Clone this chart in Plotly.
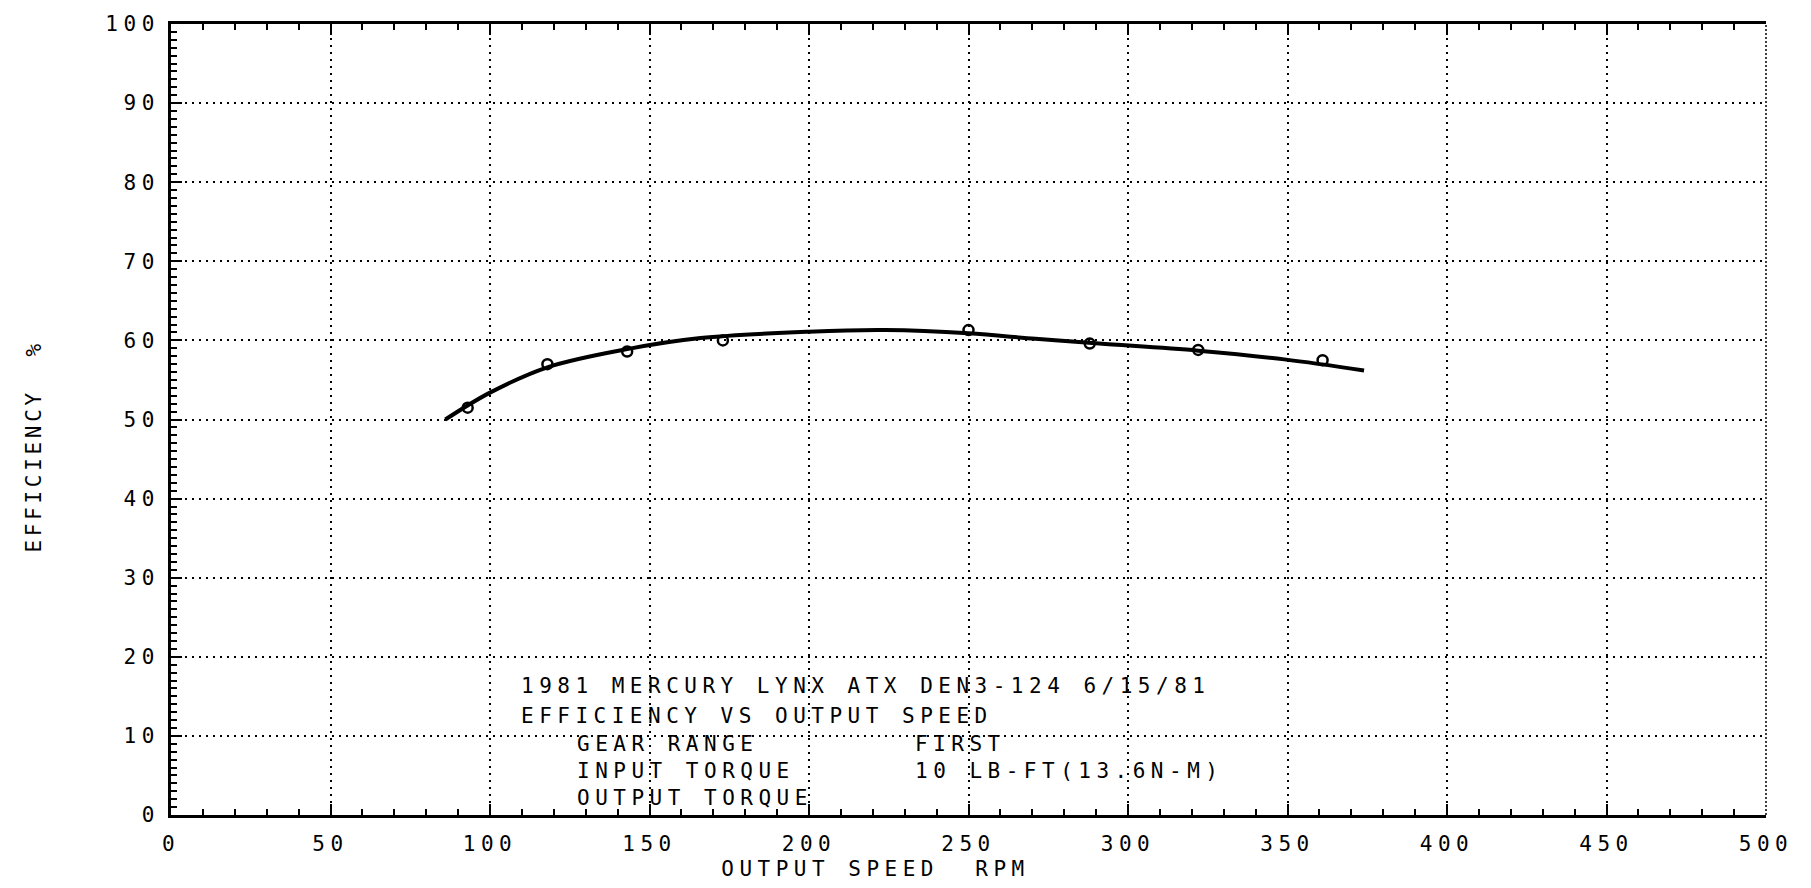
import plotly.graph_objects as go

# measured test points (output speed rpm, efficiency %)
rpm_points = [93, 118, 143, 173, 250, 288, 322, 361]
eff_points = [51.5, 57.0, 58.6, 60.0, 61.3, 59.6, 58.8, 57.5]

# hand-faired curve
curve_rpm = [86, 100, 118, 143, 166, 200, 224, 250, 271, 291, 322, 349, 374]
curve_eff = [50.0, 53.4, 56.6, 58.9, 60.3, 61.1, 61.3, 60.9, 60.2, 59.6, 58.7, 57.6, 56.2]

x_ticks = [0, 50, 100, 150, 200, 250, 300, 350, 400, 450, 500]
y_ticks = [0, 10, 20, 30, 40, 50, 60, 70, 80, 90, 100]

title_lines = ["1981 MERCURY LYNX ATX DEN3-124 6/15/81",
               "EFFICIENCY VS OUTPUT SPEED"]
label_names = ["GEAR RANGE", "INPUT TORQUE", "OUTPUT TORQUE"]
label_values = ["FIRST", "10 LB-FT(13.6N-M)", ""]

FONT = "DejaVu Sans Mono"
fs = 21

fig = go.Figure()
fig.add_trace(go.Scatter(x=curve_rpm, y=curve_eff, mode="lines",
                         line=dict(color="black", width=4, shape="spline", smoothing=1.0),
                         showlegend=False, hoverinfo="skip"))
fig.add_trace(go.Scatter(x=rpm_points, y=eff_points, mode="markers",
                         marker=dict(symbol="circle-open", size=10, color="black",
                                     line=dict(width=2.5, color="black")),
                         showlegend=False))

axis_common = dict(showline=True, linecolor="black", linewidth=3,
                   ticks="inside", ticklen=11, tickwidth=2, tickcolor="black",
                   showgrid=True, gridcolor="black", gridwidth=1.8, griddash="2px,5px",
                   zeroline=False, tickfont=dict(family=FONT, size=fs, color="black"))

fig.update_xaxes(range=[0, 500], tickvals=x_ticks, ticktext=[str(v) for v in x_ticks],
                 mirror="ticks", ticklabelstandoff=8,
                 minor=dict(dtick=10, ticks="inside", ticklen=6, tickwidth=2,
                            tickcolor="black", showgrid=False),
                 **axis_common)
fig.update_yaxes(range=[0, 100], tickvals=y_ticks, ticktext=[str(v) for v in y_ticks],
                 mirror=False, ticklabelstandoff=4,
                 minor=dict(dtick=1, ticks="inside", ticklen=6, tickwidth=2,
                            tickcolor="black", showgrid=False),
                 **axis_common)

fig.update_layout(
    yaxis2=dict(overlaying="y", side="right", range=[0, 100], showline=False,
                showgrid=False, zeroline=False, showticklabels=False,
                ticks="inside", tickvals=y_ticks, ticklen=8, tickwidth=2, tickcolor="black",
                minor=dict(dtick=1, ticks="inside", ticklen=5, tickwidth=1.5, tickcolor="black")),
)

annotations = []
ys = [0.1626, 0.125]
for txt, yy in zip(title_lines, ys):
    annotations.append(dict(text=txt, x=0.218, y=yy, xref="paper", yref="paper",
                            xanchor="left", yanchor="middle", showarrow=False,
                            font=dict(family=FONT, size=fs, color="black")))
ys2 = [0.090, 0.056, 0.021]
for name, val, yy in zip(label_names, label_values, ys2):
    annotations.append(dict(text=name, x=0.253, y=yy, xref="paper", yref="paper",
                            xanchor="left", yanchor="middle", showarrow=False,
                            font=dict(family=FONT, size=fs, color="black")))
    if val:
        annotations.append(dict(text=val, x=0.465, y=yy, xref="paper", yref="paper",
                                xanchor="left", yanchor="middle", showarrow=False,
                                font=dict(family=FONT, size=fs, color="black")))
annotations.append(dict(text="OUTPUT SPEED\u00a0\u00a0RPM", x=0.442, y=-0.068,
                        xref="paper", yref="paper", xanchor="center", yanchor="middle",
                        showarrow=False, font=dict(family=FONT, size=fs, color="black")))
annotations.append(dict(text="EFFICIENCY\u00a0\u00a0%", x=-0.0858, y=0.466, textangle=-90,
                        xref="paper", yref="paper", xanchor="center", yanchor="middle",
                        showarrow=False, font=dict(family=FONT, size=fs, color="black")))

fig.update_layout(
    annotations=annotations,
    shapes=[dict(type="line", xref="paper", yref="paper", x0=1, x1=1, y0=0, y1=1,
                 line=dict(color="black", width=1.5, dash="2px,2px"))],
    width=1811, height=888,
    margin=dict(l=171, r=45, t=15, b=73),
    plot_bgcolor="white", paper_bgcolor="white",
    showlegend=False,
)

post = """
var gd=document.getElementById('{plot_id}');
document.body.style.margin='0';
document.documentElement.style.overflow='hidden';
document.body.style.overflow='hidden';
var fl=gd._fullLayout;
gd.querySelectorAll('text').forEach(function(t){
  if(!t.closest('.annotation')) t.style.letterSpacing='5.5px';
});
gd.querySelectorAll('.annotation').forEach(function(a){
  var i=+a.getAttribute('data-index');
  var ann=fl.annotations[i];
  var t=a.querySelector('text.annotation-text');
  if(!t) return;
  var b0=t.getBBox();
  t.style.letterSpacing=(ann.textangle===-90)?'3.7px':'5.5px';
  var b1=t.getBBox();
  if(ann.xanchor==='left'){
    t.setAttribute('transform','translate('+(b0.x-b1.x)+',0)');
  }
});
"""
fig.write_html("out.html", post_script=post, config={"displayModeBar": False})
